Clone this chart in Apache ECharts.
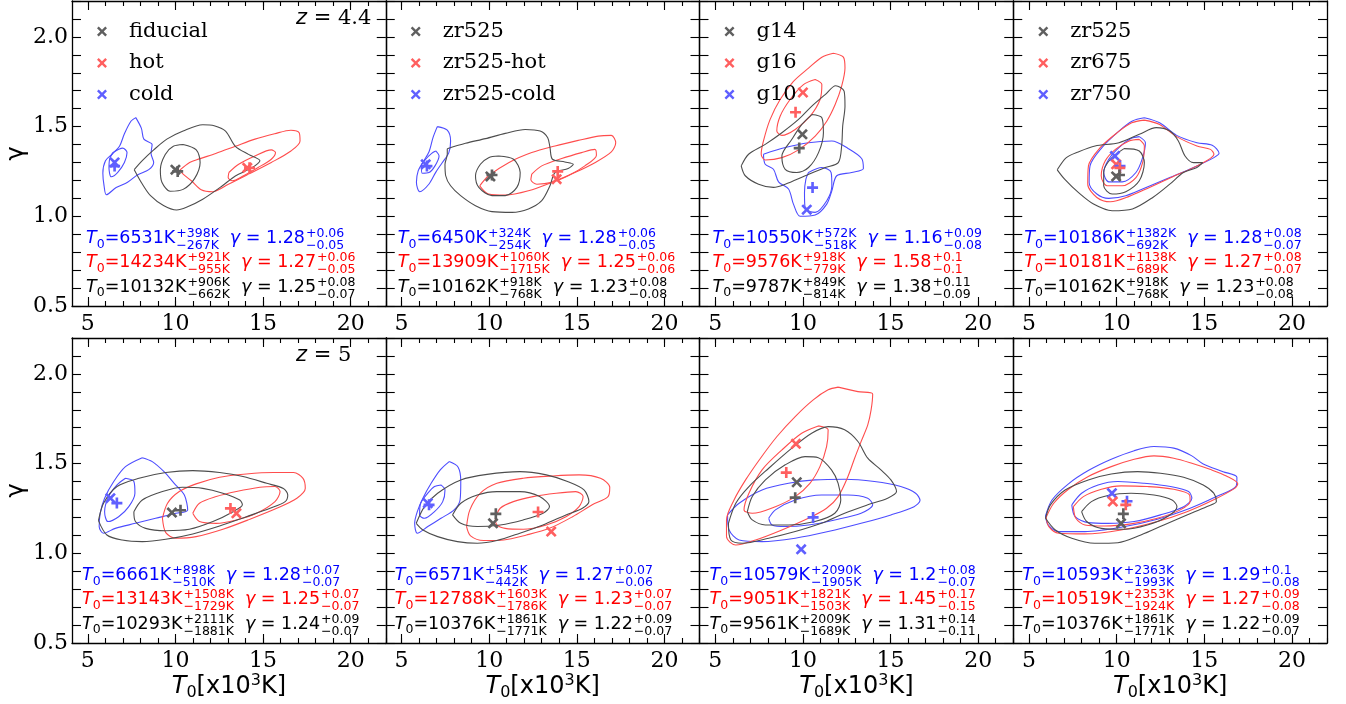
<!DOCTYPE html>
<html>
<head>
<meta charset="utf-8">
<script src="https://cdn.jsdelivr.net/npm/echarts@6/dist/echarts.min.js"></script>
<style>
html, body { margin: 0; padding: 0; background: #fff; }
#chart { width: 1346px; height: 704px; }
</style>
</head>
<body>
<div id="chart"></div>
<script>
// tick values
const xMajorTicks = [5, 10, 15, 20];
const xMinorTicks = [5, 6, 7, 8, 9, 10, 11, 12, 13, 14, 15, 16, 17, 18, 19, 20, 21, 22];
const yTicks = [0.5, 0.6, 0.7, 0.8, 0.9, 1.0, 1.1, 1.2, 1.3, 1.4, 1.5, 1.6, 1.7, 1.8, 1.9, 2.0, 2.1, 2.2];
const yLabelTicks = [0.5, 1.0, 1.5, 2.0];

// legends (gray, red, blue) for the upper panels, redshift labels
const legendNames = [
  ['fiducial', 'hot', 'cold'],
  ['zr525', 'zr525-hot', 'zr525-cold'],
  ['g14', 'g16', 'g10'],
  ['zr525', 'zr675', 'zr750']
];
const redshifts = ['4.4', null, null, null, '5', null, null, null];

// contours [T0 (1e3 K), gamma], 95% (Out) and 68% (In)
const p1BlueOut = [[7.74,1.55],[8.06,1.49],[8.20,1.43],[8.67,1.40],[8.61,1.35],[8.76,1.30],[8.48,1.26],[7.83,1.23],[7.27,1.19],[6.62,1.16],[6.06,1.12],[5.93,1.17],[5.86,1.24],[6.01,1.31],[6.43,1.35],[6.81,1.39],[7.09,1.46],[7.46,1.53]];
const p1BlueIn = [[6.43,1.355],[6.99,1.38],[7.24,1.355],[7.09,1.30],[6.71,1.245],[6.34,1.22],[6.21,1.27],[6.25,1.32]];
const p1RedOut = [[10.25,1.257],[10.81,1.30],[11.37,1.32],[12.30,1.35],[13.42,1.39],[14.54,1.43],[15.66,1.46],[16.59,1.48],[17.06,1.466],[17.11,1.42],[16.59,1.364],[15.47,1.30],[14.17,1.235],[13.05,1.18],[12.12,1.137],[11.47,1.148],[10.91,1.198],[10.44,1.235]];
const p1RedIn = [[13.05,1.244],[13.61,1.29],[14.54,1.336],[15.47,1.37],[15.71,1.355],[15.47,1.318],[14.72,1.272],[13.89,1.226],[13.24,1.198],[13.01,1.216]];
const p1BlackOut = [[7.65,1.26],[8.11,1.31],[8.76,1.37],[9.51,1.43],[10.44,1.475],[11.56,1.51],[12.21,1.505],[12.86,1.475],[13.42,1.39],[14.17,1.345],[14.82,1.31],[14.35,1.27],[13.42,1.225],[12.68,1.17],[11.56,1.095],[10.63,1.05],[10.07,1.035],[9.32,1.06],[8.58,1.115],[8.11,1.18]];
const p1BlackIn = [[10.44,1.40],[11.19,1.37],[11.41,1.30],[11.09,1.21],[10.44,1.15],[9.70,1.14],[9.23,1.19],[9.14,1.26],[9.42,1.345],[9.88,1.39]];

const p2BlueOut = [[7.04,1.50],[7.61,1.48],[7.80,1.42],[7.70,1.355],[7.33,1.30],[6.95,1.245],[6.57,1.18],[6.04,1.137],[5.85,1.19],[5.95,1.253],[6.23,1.303],[6.57,1.36],[6.80,1.44]];
const p2BlueIn = [[6.95,1.364],[7.14,1.336],[6.91,1.281],[6.57,1.244],[6.19,1.24],[6.13,1.281],[6.38,1.318],[6.72,1.351]];
const p2RedOut = [[9.46,1.17],[9.97,1.226],[11.11,1.299],[12.43,1.355],[13.76,1.392],[15.08,1.423],[16.22,1.447],[16.97,1.451],[17.22,1.41],[16.97,1.359],[16.03,1.299],[14.89,1.244],[13.57,1.189],[12.24,1.142],[10.92,1.118],[9.97,1.124]];
const p2RedIn = [[12.43,1.235],[13.00,1.281],[14.14,1.322],[15.27,1.355],[16.03,1.373],[16.12,1.34],[15.46,1.281],[14.51,1.226],[13.57,1.189],[12.72,1.179],[12.38,1.203]];
const p2BlackOut = [[7.61,1.377],[8.65,1.407],[9.79,1.433],[10.92,1.462],[12.06,1.484],[12.91,1.475],[13.34,1.438],[13.47,1.383],[13.61,1.318],[14.32,1.303],[14.80,1.29],[14.51,1.266],[13.76,1.244],[13.47,1.17],[13.00,1.087],[12.24,1.041],[11.30,1.022],[10.16,1.026],[9.22,1.059],[8.37,1.115],[7.80,1.17],[7.52,1.226],[7.48,1.29],[7.61,1.346]];
const p2BlackIn = [[10.54,1.336],[11.39,1.318],[11.77,1.244],[11.58,1.161],[10.92,1.115],[10.16,1.115],[9.41,1.161],[9.22,1.226],[9.50,1.29],[9.97,1.327]];

const p3BlueOut = [[7.75,1.346],[8.99,1.383],[10.32,1.41],[11.65,1.42],[12.59,1.377],[13.35,1.322],[13.45,1.266],[12.78,1.244],[11.93,1.226],[11.65,1.142],[11.36,1.068],[10.70,1.007],[9.84,1.0],[9.46,1.068],[9.18,1.152],[8.61,1.192],[8.32,1.262],[7.85,1.29]];
const p3BlueIn = [[10.32,1.244],[11.08,1.272],[11.61,1.244],[11.65,1.17],[11.36,1.087],[10.70,1.022],[10.13,1.041],[10.09,1.133],[10.17,1.207]];
const p3RedOut = [[11.74,1.909],[12.31,1.887],[12.40,1.826],[12.21,1.725],[11.84,1.623],[11.36,1.53],[10.70,1.447],[9.75,1.37],[8.80,1.327],[7.85,1.314],[7.62,1.346],[7.75,1.42],[8.13,1.54],[8.70,1.651],[9.46,1.752],[10.32,1.826],[11.08,1.887]];
const p3RedIn = [[10.70,1.762],[11.08,1.734],[10.98,1.651],[10.41,1.558],[9.56,1.484],[8.80,1.451],[8.51,1.475],[8.70,1.558],[9.27,1.651],[10.03,1.734]];
const p3BlackOut = [[6.48,1.281],[6.90,1.346],[7.85,1.401],[8.80,1.466],[9.75,1.54],[10.51,1.614],[11.27,1.678],[11.87,1.728],[12.35,1.697],[12.40,1.614],[12.27,1.503],[12.21,1.392],[12.02,1.299],[11.27,1.272],[10.13,1.226],[8.99,1.179],[8.32,1.161],[7.47,1.179],[6.71,1.226]];
const p3BlackIn = [[10.51,1.567],[11.08,1.549],[11.17,1.466],[10.89,1.355],[10.32,1.272],[9.65,1.244],[8.99,1.262],[8.80,1.336],[9.37,1.429],[9.94,1.512]];

const p4BlueOut = [[11.58,1.549],[12.45,1.521],[13.42,1.451],[14.58,1.41],[15.45,1.396],[15.84,1.351],[15.55,1.327],[14.39,1.272],[13.03,1.216],[11.68,1.161],[10.52,1.115],[9.55,1.10],[8.87,1.124],[8.43,1.189],[8.48,1.281],[9.16,1.383],[10.13,1.475],[10.90,1.531]];
const p4BlueIn = [[11.29,1.444],[11.64,1.41],[11.48,1.327],[11.10,1.244],[10.32,1.192],[9.55,1.192],[9.26,1.244],[9.55,1.318],[10.13,1.383],[10.81,1.433]];
const p4RedOut = [[11.58,1.536],[12.45,1.512],[13.42,1.444],[14.58,1.392],[15.35,1.373],[15.55,1.346],[14.58,1.281],[13.23,1.222],[11.87,1.161],[10.71,1.111],[9.64,1.081],[8.87,1.105],[8.35,1.179],[8.39,1.281],[9.06,1.383],[10.03,1.466],[10.86,1.521]];
const p4RedIn = [[11.29,1.429],[11.58,1.392],[11.48,1.299],[11.10,1.216],[10.32,1.17],[9.45,1.17],[9.12,1.226],[9.35,1.309],[9.93,1.373],[10.71,1.42]];
const p4BlackOut = [[6.61,1.259],[7.13,1.327],[7.81,1.359],[8.77,1.392],[10.13,1.41],[11.29,1.457],[12.26,1.494],[13.03,1.475],[13.52,1.42],[13.90,1.336],[14.39,1.299],[14.91,1.299],[14.58,1.272],[13.81,1.244],[13.03,1.179],[12.06,1.105],[10.90,1.041],[9.74,1.031],[8.68,1.068],[7.81,1.133],[7.03,1.207]];
const p4BlackIn = [[10.42,1.377],[11.29,1.364],[11.58,1.299],[11.29,1.198],[10.52,1.137],[9.74,1.124],[9.26,1.17],[9.26,1.244],[9.64,1.318]];

const p5BlueOut = [[8.11,1.533],[8.68,1.511],[9.35,1.455],[9.93,1.39],[10.51,1.325],[10.70,1.242],[10.03,1.223],[8.87,1.195],[7.72,1.167],[6.57,1.139],[5.90,1.112],[5.65,1.149],[5.71,1.223],[5.96,1.307],[6.48,1.40],[7.15,1.483]];
const p5BlueIn = [[7.15,1.418],[7.63,1.40],[7.69,1.335],[7.34,1.26],[6.76,1.204],[6.15,1.177],[5.96,1.232],[6.19,1.316],[6.67,1.381]];
const p5RedOut = [[9.26,1.195],[9.55,1.279],[10.22,1.344],[11.18,1.387],[12.52,1.424],[14.05,1.442],[15.59,1.45],[16.74,1.45],[17.28,1.418],[17.41,1.362],[16.93,1.307],[15.78,1.251],[14.25,1.19],[12.71,1.134],[11.18,1.093],[10.03,1.084],[9.45,1.115]];
const p5RedIn = [[10.99,1.223],[11.37,1.279],[12.33,1.316],[13.48,1.344],[14.82,1.368],[15.68,1.372],[15.97,1.344],[15.68,1.288],[14.63,1.223],[13.48,1.186],[12.33,1.167],[11.37,1.177]];
const p5BlackOut = [[5.61,1.182],[5.90,1.279],[6.67,1.372],[7.92,1.418],[9.45,1.45],[10.99,1.461],[12.52,1.45],[13.86,1.428],[15.21,1.39],[16.16,1.361],[16.41,1.325],[16.26,1.288],[15.40,1.251],[14.05,1.204],[12.52,1.152],[10.99,1.108],[9.45,1.078],[8.11,1.065],[6.96,1.074],[6.09,1.102]];
const p5BlackIn = [[7.63,1.232],[8.11,1.297],[9.26,1.344],[10.41,1.368],[11.56,1.362],[12.71,1.335],[13.67,1.297],[13.82,1.27],[13.29,1.232],[12.14,1.177],[10.79,1.134],[9.45,1.126],[8.30,1.139],[7.72,1.177]];

const p6BlueOut = [[7.72,1.511],[8.23,1.48],[8.38,1.40],[8.34,1.297],[8.00,1.242],[7.25,1.195],[6.50,1.149],[5.90,1.112],[5.75,1.167],[5.90,1.232],[6.22,1.307],[6.69,1.39],[7.21,1.465]];
const p6BlueIn = [[7.25,1.381],[7.48,1.353],[7.35,1.288],[6.88,1.232],[6.31,1.195],[6.03,1.214],[6.09,1.279],[6.50,1.335],[6.88,1.372]];
const p6RedOut = [[8.71,1.149],[8.90,1.242],[9.50,1.335],[10.44,1.39],[11.94,1.418],[13.63,1.431],[15.13,1.437],[16.35,1.418],[16.88,1.368],[16.78,1.316],[15.88,1.27],[14.76,1.204],[13.44,1.139],[12.13,1.102],[10.82,1.074],[9.69,1.071],[8.94,1.097]];
const p6RedIn = [[10.35,1.195],[10.63,1.251],[11.38,1.288],[12.50,1.316],[13.82,1.335],[14.94,1.344],[15.36,1.316],[15.13,1.26],[14.38,1.204],[13.26,1.158],[11.94,1.134],[10.91,1.139],[10.44,1.158]];
const p6BlackOut = [[5.84,1.167],[6.31,1.26],[7.06,1.335],[8.38,1.409],[9.88,1.44],[11.75,1.455],[13.26,1.437],[14.47,1.40],[15.41,1.353],[15.69,1.288],[15.32,1.251],[14.38,1.214],[13.07,1.158],[11.75,1.112],[10.44,1.071],[9.32,1.056],[8.19,1.065],[7.06,1.093],[6.22,1.13]];
const p6BlackIn = [[7.91,1.214],[8.38,1.279],[9.32,1.325],[10.44,1.344],[11.75,1.344],[12.88,1.316],[13.44,1.26],[13.07,1.223],[11.94,1.186],[10.63,1.158],[9.32,1.149],[8.38,1.167]];

const p7BlueOut = [[5.70,1.214],[6.36,1.279],[7.67,1.353],[9.18,1.39],[10.69,1.409],[12.38,1.413],[14.08,1.40],[15.58,1.372],[16.43,1.335],[16.68,1.294],[16.34,1.26],[15.02,1.214],[13.32,1.167],[11.44,1.121],[9.56,1.084],[7.67,1.065],[6.36,1.074],[5.79,1.13]];
const p7BlueIn = [[8.05,1.195],[8.43,1.242],[9.56,1.297],[11.06,1.325],[12.57,1.325],[13.70,1.307],[13.98,1.27],[13.32,1.223],[11.82,1.186],[10.31,1.158],[8.99,1.149],[8.24,1.158]];
const p7RedOut = [[12.01,1.926],[13.14,1.901],[13.98,1.888],[13.89,1.799],[13.70,1.716],[13.32,1.623],[12.95,1.53],[12.57,1.428],[12.01,1.316],[11.35,1.251],[10.31,1.195],[8.80,1.13],[7.30,1.074],[6.17,1.046],[5.64,1.093],[5.64,1.186],[6.07,1.297],[6.73,1.409],[7.58,1.53],[8.52,1.651],[9.56,1.762],[10.59,1.855],[11.44,1.911]];
const p7RedIn = [[10.88,1.71],[11.44,1.688],[11.35,1.595],[10.97,1.483],[10.40,1.39],[9.56,1.316],[8.43,1.26],[7.11,1.223],[6.64,1.242],[6.92,1.335],[7.67,1.465],[8.80,1.576],[9.93,1.669]];
const p7BlackOut = [[5.75,1.167],[6.17,1.279],[6.92,1.372],[8.05,1.474],[9.37,1.586],[10.50,1.669],[11.44,1.706],[12.38,1.688],[13.14,1.623],[13.70,1.53],[14.45,1.465],[15.02,1.409],[15.34,1.344],[14.83,1.307],[13.70,1.27],[12.38,1.223],[11.06,1.167],[9.56,1.121],[8.05,1.084],[6.54,1.056],[5.89,1.074]];
const p7BlackIn = [[6.83,1.232],[7.11,1.316],[7.86,1.409],[8.99,1.493],[10.12,1.539],[10.88,1.533],[11.63,1.465],[12.01,1.39],[12.16,1.297],[11.82,1.223],[10.69,1.177],[9.18,1.158],[7.86,1.158],[7.11,1.186]];

const p8BlueOut = [[5.94,1.208],[6.31,1.297],[7.25,1.387],[8.38,1.461],[9.69,1.524],[11.00,1.572],[12.13,1.595],[13.26,1.586],[14.29,1.543],[14.94,1.498],[16.07,1.455],[16.86,1.424],[16.82,1.375],[15.69,1.316],[14.19,1.251],[12.32,1.19],[10.25,1.145],[8.19,1.121],[6.69,1.121],[6.09,1.158]];
const p8BlueIn = [[7.44,1.27],[8.00,1.335],[8.94,1.381],[10.07,1.40],[11.57,1.39],[13.07,1.372],[14.10,1.344],[14.29,1.307],[13.82,1.26],[12.50,1.214],[11.00,1.177],[9.50,1.167],[8.38,1.171],[7.63,1.204]];
const p8RedOut = [[5.98,1.201],[6.41,1.279],[7.25,1.357],[8.38,1.428],[9.69,1.483],[11.00,1.524],[12.13,1.543],[13.26,1.53],[14.29,1.502],[15.32,1.468],[16.26,1.431],[16.91,1.387],[16.73,1.362],[15.51,1.297],[14.01,1.232],[12.32,1.177],[10.25,1.13],[8.19,1.108],[6.69,1.112],[6.13,1.149]];
const p8RedIn = [[7.53,1.26],[8.10,1.316],[9.13,1.357],[10.25,1.376],[11.75,1.372],[13.26,1.357],[14.16,1.325],[14.19,1.288],[13.63,1.242],[12.32,1.195],[10.82,1.164],[9.32,1.152],[8.19,1.158],[7.67,1.195]];
const p8BlackOut = [[5.94,1.195],[6.22,1.27],[7.06,1.353],[8.38,1.409],[9.69,1.442],[11.19,1.455],[12.50,1.446],[13.82,1.424],[14.94,1.381],[15.54,1.335],[15.69,1.288],[15.13,1.26],[14.01,1.214],[12.69,1.158],[11.38,1.102],[10.07,1.059],[8.75,1.056],[7.44,1.084],[6.50,1.13]];
const p8BlackIn = [[8.00,1.232],[8.56,1.288],[9.50,1.322],[10.82,1.335],[12.13,1.325],[13.16,1.297],[13.44,1.26],[12.88,1.204],[11.75,1.158],[10.44,1.134],[9.13,1.139],[8.29,1.177]];

// markers per panel: [blue, red, black]
const crossPoints = [
  [[6.53,1.30],[14.10,1.27],[10.00,1.26]],
  [[6.38,1.29],[13.85,1.207],[10.07,1.222]],
  [[10.22,1.037],[10.00,1.69],[9.97,1.457]],
  [[9.90,1.336],[9.97,1.29],[9.97,1.222]],
  [[6.29,1.307],[13.48,1.223],[9.80,1.227]],
  [[6.50,1.279],[13.54,1.121],[10.22,1.167]],
  [[9.90,1.022],[9.60,1.61],[9.65,1.396]],
  [[9.73,1.335],[9.78,1.288],[10.25,1.167]]
];
const plusPoints = [
  [[6.53,1.28],[14.23,1.27],[10.13,1.25]],
  [[6.45,1.28],[13.91,1.25],[10.16,1.23]],
  [[10.55,1.16],[9.58,1.58],[9.79,1.38]],
  [[10.19,1.28],[10.18,1.27],[10.16,1.23]],
  [[6.66,1.28],[13.14,1.25],[10.29,1.24]],
  [[6.57,1.27],[12.79,1.23],[10.38,1.22]],
  [[10.58,1.20],[9.05,1.45],[9.56,1.31]],
  [[10.59,1.29],[10.52,1.27],[10.38,1.22]]
];

// fit results per panel: [blue, red, black] -> T0, +, -, gamma, +, -
const fitNotes = [
  [['6531','+398K','\u2212267K','1.28','+0.06','\u22120.05'],['14234','+921K','\u2212955K','1.27','+0.06','\u22120.05'],['10132','+906K','\u2212662K','1.25','+0.08','\u22120.07']],
  [['6450','+324K','\u2212254K','1.28','+0.06','\u22120.05'],['13909','+1060K','\u22121715K','1.25','+0.06','\u22120.06'],['10162','+918K','\u2212768K','1.23','+0.08','\u22120.08']],
  [['10550','+572K','\u2212518K','1.16','+0.09','\u22120.08'],['9576','+918K','\u2212779K','1.58','+0.1','\u22120.1'],['9787','+849K','\u2212814K','1.38','+0.11','\u22120.09']],
  [['10186','+1382K','\u2212692K','1.28','+0.08','\u22120.07'],['10181','+1138K','\u2212689K','1.27','+0.08','\u22120.07'],['10162','+918K','\u2212768K','1.23','+0.08','\u22120.08']],
  [['6661','+898K','\u2212510K','1.28','+0.07','\u22120.07'],['13143','+1508K','\u22121729K','1.25','+0.07','\u22120.07'],['10293','+2111K','\u22121881K','1.24','+0.09','\u22120.07']],
  [['6571','+545K','\u2212442K','1.27','+0.07','\u22120.06'],['12788','+1603K','\u22121786K','1.23','+0.07','\u22120.07'],['10376','+1861K','\u22121771K','1.22','+0.09','\u22120.07']],
  [['10579','+2090K','\u22121905K','1.2','+0.08','\u22120.07'],['9051','+1821K','\u22121503K','1.45','+0.17','\u22120.15'],['9561','+2009K','\u22121689K','1.31','+0.14','\u22120.11']],
  [['10593','+2363K','\u22121993K','1.29','+0.1','\u22120.08'],['10519','+2353K','\u22121924K','1.27','+0.09','\u22120.08'],['10376','+1861K','\u22121771K','1.22','+0.09','\u22120.07']]
];

const panelContours = [
  [p1BlueOut, p1BlueIn, p1RedOut, p1RedIn, p1BlackOut, p1BlackIn],
  [p2BlueOut, p2BlueIn, p2RedOut, p2RedIn, p2BlackOut, p2BlackIn],
  [p3BlueOut, p3BlueIn, p3RedOut, p3RedIn, p3BlackOut, p3BlackIn],
  [p4BlueOut, p4BlueIn, p4RedOut, p4RedIn, p4BlackOut, p4BlackIn],
  [p5BlueOut, p5BlueIn, p5RedOut, p5RedIn, p5BlackOut, p5BlackIn],
  [p6BlueOut, p6BlueIn, p6RedOut, p6RedIn, p6BlackOut, p6BlackIn],
  [p7BlueOut, p7BlueIn, p7RedOut, p7RedIn, p7BlackOut, p7BlackIn],
  [p8BlueOut, p8BlueIn, p8RedOut, p8RedIn, p8BlackOut, p8BlackIn]
];

// layout
const LEFTS = [72, 385.75, 699.5, 1013.25];
const TOPS = [1, 338];
const W = 313.75, H = 305;
const XMIN = 4.1, XMAX = 22, YMIN = 0.5, YMAX = 2.2;
const SANS = '"DejaVu Sans"', SERIF = '"DejaVu Serif"';
const CROSS = 'path://M0,1.7L1.7,0L5,3.3L8.3,0L10,1.7L6.7,5L10,8.3L8.3,10L5,6.7L1.7,10L0,8.3L3.3,5Z';
const PLUS = 'path://M3.8,0L6.2,0L6.2,3.8L10,3.8L10,6.2L6.2,6.2L6.2,10L3.8,10L3.8,6.2L0,6.2L0,3.8L3.8,3.8Z';
const lineColors = ['#4d4dff', '#4d4dff', '#ff4d4d', '#ff4d4d', '#4d4d4d', '#4d4d4d'];
const markColors = ['#5f5fff', '#ff5f5f', '#5f5f5f'];
const textColors = ['#0000ff', '#ff0000', '#000000'];
const noteLeft = [14, 12, 13, 11, 10, 9, 10, 9];
const noteBase = [61, 37, 12.5];

const gx = g => LEFTS[g % 4];
const gy = g => TOPS[g < 4 ? 0 : 1];

const grid = [], xAxis = [], yAxis = [], series = [];
const axisLine = { show: true, onZero: false, lineStyle: { color: '#000', width: 1.3 } };
const tickLine = { color: '#000', width: 1.1 };

for (let k = 0; k < 16; k++) {
  const g = k % 8;
  grid.push({ left: gx(g), top: gy(g), width: W, height: H, containLabel: false });
}

for (let g = 0; g < 8; g++) {
  const bottomRow = g >= 4;
  // main grid: labels + major ticks
  xAxis.push({
    gridIndex: g, type: 'value', position: 'bottom', min: XMIN, max: XMAX,
    axisLine: axisLine, splitLine: { show: false },
    axisTick: { show: true, inside: true, length: 9, customValues: xMajorTicks, lineStyle: tickLine },
    axisLabel: { show: true, customValues: xMajorTicks, margin: 7, color: '#000', fontFamily: SERIF, fontSize: 22 },
    name: bottomRow ? '{i|T}{s|0}{n|[x10}{p|3}{n|K]}' : '',
    nameLocation: 'middle', nameGap: 30,
    nameTextStyle: {
      color: '#000', fontFamily: SANS, fontSize: 24,
      rich: {
        i: { fontFamily: SANS, fontSize: 24, fontStyle: 'italic', lineHeight: 28, color: '#000' },
        n: { fontFamily: SANS, fontSize: 24, lineHeight: 28, color: '#000' },
        s: { fontFamily: SANS, fontSize: 16, lineHeight: 14, verticalAlign: 'bottom', color: '#000' },
        p: { fontFamily: SANS, fontSize: 16, lineHeight: 14, verticalAlign: 'top', color: '#000' }
      }
    }
  });
  xAxis.push({
    gridIndex: g, type: 'value', position: 'top', min: XMIN, max: XMAX,
    axisLine: axisLine, splitLine: { show: false }, axisLabel: { show: false },
    axisTick: { show: true, inside: true, length: 9, customValues: xMajorTicks, lineStyle: tickLine }
  });
  yAxis.push({
    gridIndex: g, type: 'value', position: 'left', min: YMIN, max: YMAX,
    axisLine: axisLine, splitLine: { show: false },
    axisTick: { show: true, inside: true, length: 9, customValues: yTicks, lineStyle: tickLine },
    axisLabel: { show: g % 4 === 0, customValues: yLabelTicks, margin: 4, color: '#000', fontFamily: SERIF, fontSize: 22,
      formatter: v => v.toFixed(1) },
    name: g % 4 === 0 ? '\u03b3' : '', nameLocation: 'middle', nameGap: 41,
    nameTextStyle: { color: '#000', fontFamily: SANS, fontSize: 24 }
  });
  yAxis.push({
    gridIndex: g, type: 'value', position: 'right', min: YMIN, max: YMAX,
    axisLine: axisLine, splitLine: { show: false }, axisLabel: { show: false },
    axisTick: { show: true, inside: true, length: 9, customValues: yTicks, lineStyle: tickLine }
  });
}
// overlay grids carrying the minor x ticks
for (let g = 0; g < 8; g++) {
  ['bottom', 'top'].forEach(pos => xAxis.push({
    gridIndex: 8 + g, type: 'value', position: pos, min: XMIN, max: XMAX,
    axisLine: { show: false }, splitLine: { show: false }, axisLabel: { show: false },
    axisTick: { show: true, inside: true, length: 5, customValues: xMinorTicks, lineStyle: tickLine }
  }));
  yAxis.push({ gridIndex: 8 + g, type: 'value', min: YMIN, max: YMAX, show: false });
}

panelContours.forEach((set, g) => {
  set.forEach((pts, k) => {
    series.push({
      type: 'line', name: 'contour ' + g + '-' + k, xAxisIndex: 2 * g, yAxisIndex: 2 * g,
      data: pts.concat([pts[0]]), smooth: 0.3, symbol: 'none', silent: true, z: 2,
      lineStyle: { color: lineColors[k], width: 1.1 }
    });
  });
  crossPoints[g].forEach((p, k) => {
    series.push({
      type: 'scatter', name: g < 4 ? legendNames[g][2 - k] : 'cross ' + g + '-' + k,
      xAxisIndex: 2 * g, yAxisIndex: 2 * g, data: [p], symbol: CROSS, symbolSize: 11, silent: true, z: 3,
      itemStyle: { color: markColors[k], opacity: 1 }
    });
  });
  plusPoints[g].forEach((p, k) => {
    series.push({
      type: 'scatter', name: 'plus ' + g + '-' + k,
      xAxisIndex: 2 * g, yAxisIndex: 2 * g, data: [p], symbol: PLUS, symbolSize: 11, silent: true, z: 3,
      itemStyle: { color: markColors[k], opacity: 1 }
    });
  });
});

const legend = legendNames.map((names, i) => ({
  orient: 'vertical', left: LEFTS[i] + 25, top: 21, padding: 0,
  itemWidth: 10, itemHeight: 10, itemGap: 10.5, icon: CROSS, selectedMode: false,
  data: names,
  textStyle: { color: '#000', fontFamily: SERIF, fontSize: 21, lineHeight: 20, padding: [0, 0, 0, 17] }
}));

// text annotations laid out from measured widths
const mctx = document.createElement('canvas').getContext('2d');
const elements = [];
function put(text, x, base, size, italic, color, fam) {
  const font = (italic ? 'italic ' : '') + size + 'px ' + (fam || SANS);
  elements.push({
    type: 'text', x: x, y: base - 0.35 * size, silent: true,
    style: { text: text, font: font, fill: color, textAlign: 'left', textVerticalAlign: 'middle', align: 'left', verticalAlign: 'middle' }
  });
  mctx.font = font;
  return mctx.measureText(text).width;
}
const M = 17.5, S = 12.5;
fitNotes.forEach((rows, g) => {
  rows.forEach((n, r) => {
    const c = textColors[r];
    const base = gy(g) + H - noteBase[r];
    let x = gx(g) + noteLeft[g];
    x += put('T', x, base, M, true, c);
    x += put('0', x, base + 4, S, false, c);
    x += put('=' + n[0] + 'K', x, base, M, false, c);
    x += Math.max(put(n[1], x + 1, base - 6.5, S, false, c), put(n[2], x + 1, base + 5.5, S, false, c)) + 1;
    x += 11;
    x += put('\u03b3', x, base, M, true, c);
    x += put(' = ' + n[3], x, base, M, false, c);
    put(n[4], x + 1, base - 6.5, S, false, c);
    put(n[5], x + 1, base + 5.5, S, false, c);
  });
});
redshifts.forEach((z, g) => {
  if (!z) return;
  let x = gx(g) + 224;
  const base = gy(g) + 25;
  x += put('z', x, base, 21, true, '#000');
  x += put(' = ', x, base, 21, false, '#000');
  put(z, x, base, 21, false, '#000', SERIF);
});

const chart = echarts.init(document.getElementById('chart'), null, { renderer: 'canvas' });
chart.setOption({
  animation: false,
  backgroundColor: '#fff',
  grid: grid, xAxis: xAxis, yAxis: yAxis, series: series, legend: legend,
  graphic: { elements: elements }
});
</script>
</body>
</html>
